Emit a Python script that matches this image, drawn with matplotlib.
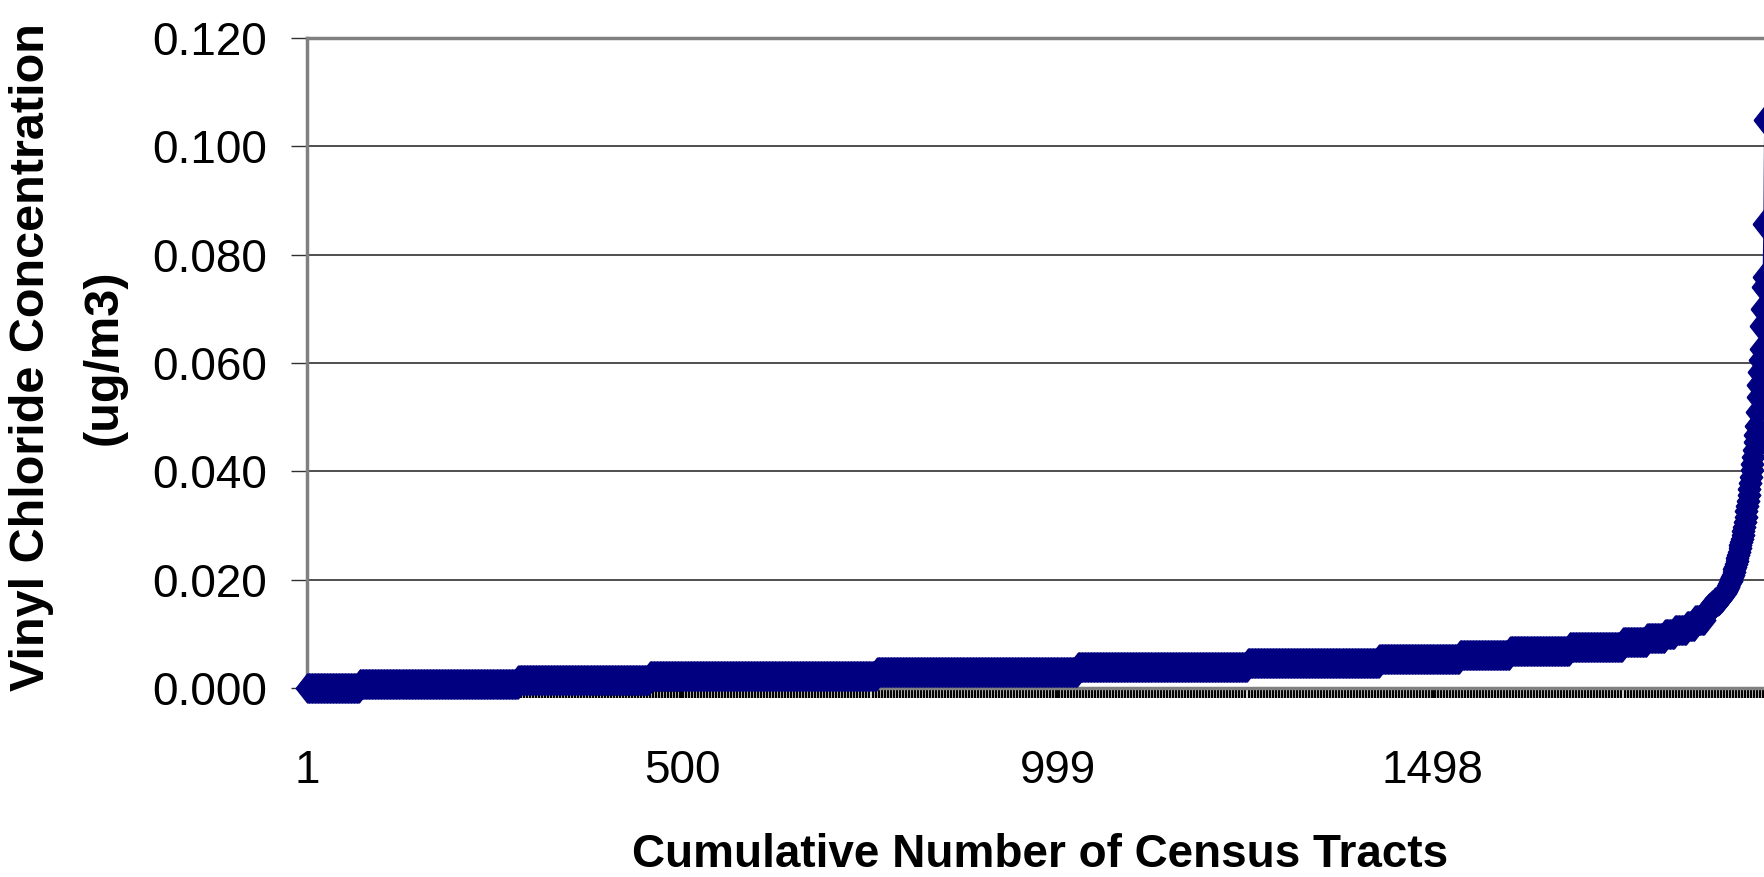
import matplotlib
matplotlib.use("Agg")
import matplotlib.pyplot as plt
import matplotlib.ticker as mticker
import numpy as np

plt.rcParams['font.family'] = ['Liberation Sans', 'DejaVu Sans']

# sorted tract concentrations (ug/m3): flat part stored as level / run length
levels = [0.0000, 0.0007, 0.0014, 0.0022, 0.0030, 0.0038, 0.0046, 0.0054, 0.0061,
          0.0069, 0.0076, 0.0085, 0.0092, 0.0099, 0.0107, 0.0115, 0.0126]
runs = [70, 211, 175, 302, 267, 226, 175, 107, 67, 79, 71, 32, 24, 13, 16, 11, 13]

# highest tracts, one value each
tail = [0.0139, 0.0140, 0.0142, 0.0143, 0.0145, 0.0146, 0.0148, 0.0149, 0.0150, 0.0152,
        0.0153, 0.0154, 0.0156, 0.0157, 0.0158, 0.0159, 0.0160, 0.0161, 0.0162, 0.0163,
        0.0164, 0.0166, 0.0168, 0.0170, 0.0172, 0.0174, 0.0176, 0.0178, 0.0180, 0.0183,
        0.0186, 0.0189, 0.0192, 0.0195, 0.0198, 0.0201, 0.0205, 0.0209, 0.0214, 0.0219,
        0.0224, 0.0229, 0.0235, 0.0240, 0.0246, 0.0252, 0.0258, 0.0264, 0.0270, 0.0276,
        0.0282, 0.0290, 0.0298, 0.0307, 0.0316, 0.0326, 0.0336, 0.0346, 0.0357, 0.0368,
        0.0379, 0.0390, 0.0402, 0.0414, 0.0426, 0.0440, 0.0454, 0.0468, 0.0483, 0.0509,
        0.0537, 0.0560, 0.0583, 0.0605, 0.0626, 0.0669, 0.0700, 0.0741, 0.0759, 0.0857,
        0.1049]

xtick_labels = [1, 500, 999, 1498]
yticks = [0.000, 0.020, 0.040, 0.060, 0.080, 0.100, 0.120]

conc = np.concatenate([np.repeat(levels, runs), tail])
tracts = np.arange(1, len(conc) + 1)

W, H = 1764, 877
fig = plt.figure(figsize=(W / 100, H / 100), dpi=100)
ax = fig.add_axes([307 / W, (H - 688) / H, (W - 307) / W, 650 / H])

navy = '#000080'
diamond = [(-11, 0), (0, 14), (11, 0), (0, -14), (-11, 0)]
ax.plot(tracts, conc, color=navy, lw=1.5, marker=diamond, ms=21,
        mfc=navy, mec=navy, mew=0.8, clip_on=False, zorder=3)

ax.set_xlim(1, 1 + 1457 / 0.752)
ax.set_ylim(0, 0.120)

ax.set_yticks(yticks)
ax.yaxis.set_major_formatter(mticker.FormatStrFormatter('%.3f'))
ax.set_xticks(xtick_labels)
ax.set_xticklabels([str(v) for v in xtick_labels])
ax.xaxis.set_minor_locator(mticker.FixedLocator(np.arange(1, len(conc) + 1, 4)))

ax.grid(axis='y', color='#303030', lw=1.2)
ax.set_axisbelow(True)

for side in ['left', 'bottom', 'top']:
    ax.spines[side].set_color('#808080')
    ax.spines[side].set_linewidth(2.5)
ax.spines['right'].set_visible(False)

ax.tick_params(axis='y', direction='out', length=11.5, width=1, color='#303030',
               labelsize=33, pad=17)
ax.tick_params(axis='x', which='both', direction='out', length=7, width=1.7,
               color='black', labelsize=33, pad=37)

fig.text(1040 / W, 1 - 855 / H, 'Cumulative Number of Census Tracts',
         ha='center', va='center', fontsize=33, fontweight='bold')
fig.text(68 / W, 1 - 357 / H, 'Vinyl Chloride Concentration\n(ug/m3)',
         ha='center', va='center', rotation=90, fontsize=35, fontweight='bold',
         linespacing=1.8, multialignment='center')

fig.savefig('out.png', dpi=100)
